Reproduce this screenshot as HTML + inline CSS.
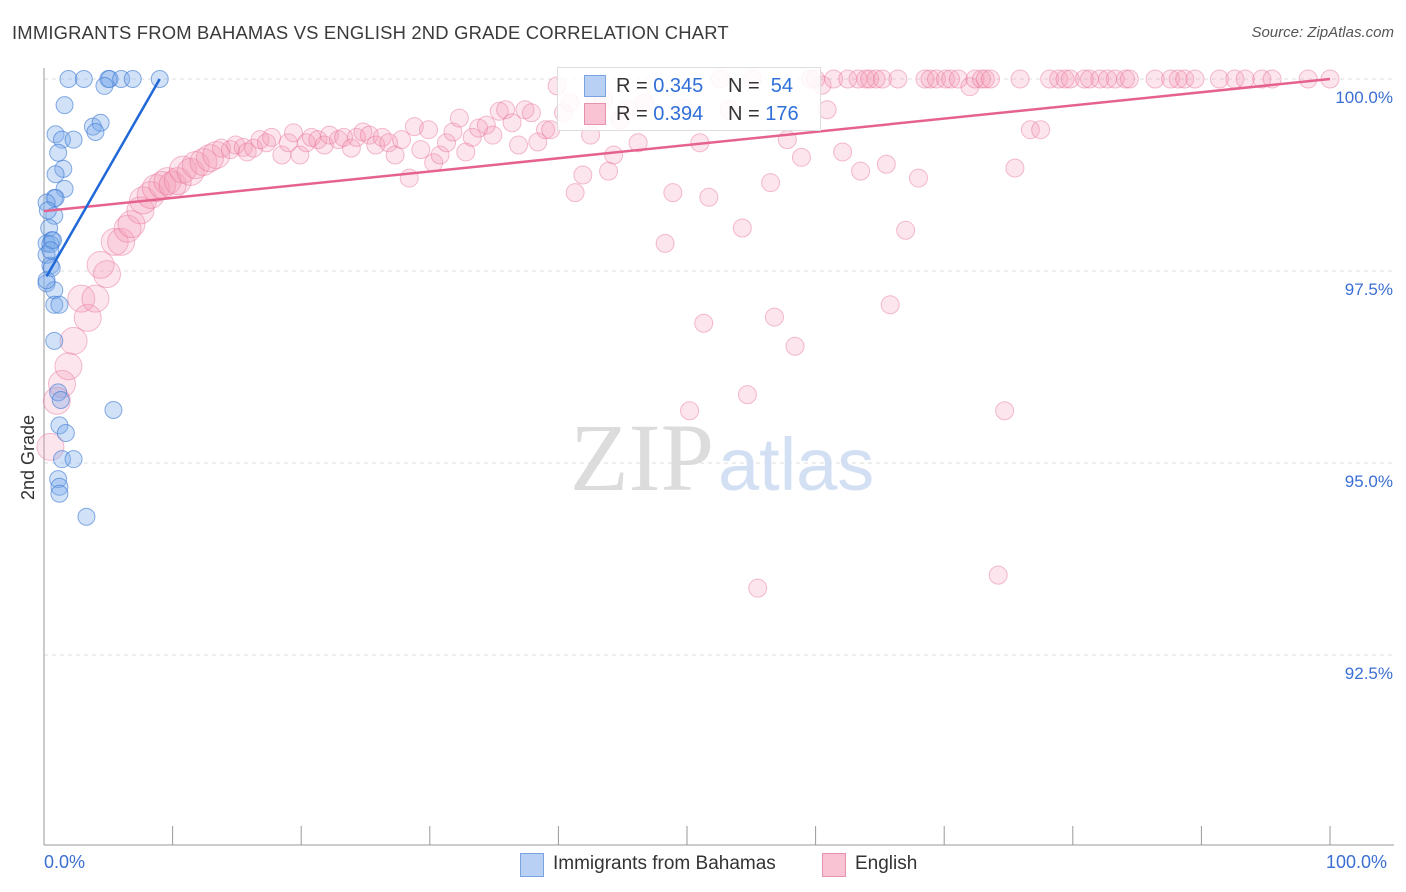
<!DOCTYPE html>
<html><head><meta charset="utf-8">
<style>
body{margin:0;background:#fff;font-family:"Liberation Sans",sans-serif;}
#wrap{position:relative;width:1406px;height:892px;overflow:hidden;}
.t{position:absolute;white-space:nowrap;}
</style></head>
<body>
<div id="wrap">
<div class="t" style="left:12px;top:22px;font-size:18.4px;color:#3a3a3a;letter-spacing:0.2px">IMMIGRANTS FROM BAHAMAS VS ENGLISH 2ND GRADE CORRELATION CHART</div>
<div class="t" style="right:12px;top:24px;font-size:15px;color:#555;font-style:italic">Source: ZipAtlas.com</div>
<svg id="svg" width="1406" height="892" style="position:absolute;left:0;top:0"></svg>
</div>
<script>
const blueX=[1.9,3.1,5.0,5.1,6.0,6.9,9.0,4.7,1.6,0.9,1.4,2.3,3.8,4.4,4.0,1.1,1.5,0.9,1.6,0.8,0.9,0.2,0.8,0.4,0.6,0.2,0.5,0.7,0.2,0.5,0.6,0.2,0.8,0.8,1.2,0.8,1.1,1.3,5.4,1.2,1.7,1.4,2.3,1.1,1.2,1.2,3.3,0.2,0.3,0.5];
const blueY=[100,100,100,100,100,100,100,99.91,99.66,99.28,99.21,99.21,99.38,99.43,99.31,99.04,98.83,98.76,98.57,98.45,98.45,98.39,98.22,98.06,97.90,97.86,97.85,97.90,97.71,97.57,97.54,97.34,97.25,97.06,97.06,96.59,95.92,95.82,95.69,95.49,95.39,95.05,95.05,94.79,94.69,94.60,94.30,97.38,98.29,97.77];
const pinkX=[0.5,1.0,1.4,1.9,2.3,3.4,2.9,4.0,4.9,4.4,5.5,6.0,6.5,6.8,7.5,7.7,8.3,8.7,9.2,9.6,10.0,10.4,10.8,11.4,11.8,12.4,12.9,13.4,13.8,14.5,14.9,15.5,15.8,16.3,16.8,17.3,17.7,18.5,19.0,19.4,19.9,20.4,20.8,21.3,21.8,22.2,22.9,23.3,23.9,24.3,24.8,25.3,25.8,26.3,26.8,27.3,27.8,28.4,28.8,29.3,29.9,30.3,30.8,31.3,31.8,32.3,32.8,33.3,33.8,34.4,34.9,35.4,35.9,36.4,36.9,37.4,37.9,38.4,39.0,39.4,39.9,40.4,40.9,41.3,41.9,42.5,42.9,43.5,43.9,44.3,44.8,45.4,46.2,46.7,48.3,48.9,49.7,50.2,51.0,51.3,51.7,52.6,53.3,54.3,54.7,55.1,55.5,56.5,56.8,57.8,58.4,58.9,59.6,60.0,60.5,60.9,61.4,62.1,62.5,63.3,63.5,63.9,64.2,64.7,65.2,65.5,65.8,66.4,67.0,68.0,68.5,68.9,69.4,70.1,70.5,71.1,72.0,72.4,72.9,73.2,73.6,74.2,74.7,75.5,75.9,76.7,77.5,78.2,78.9,79.4,79.8,80.9,81.3,82.1,82.7,83.3,84.1,84.4,86.4,87.6,88.2,88.7,89.5,91.4,92.6,93.4,94.7,95.5,98.3,100];
const pinkY=[95.21,95.81,96.03,96.26,96.59,96.89,97.14,97.14,97.46,97.58,97.88,97.88,98.05,98.11,98.29,98.42,98.49,98.58,98.62,98.67,98.62,98.67,98.82,98.79,98.88,98.92,98.97,99.01,99.10,99.08,99.14,99.11,99.05,99.10,99.21,99.17,99.24,99.01,99.17,99.30,99.01,99.17,99.24,99.21,99.14,99.27,99.21,99.24,99.10,99.24,99.31,99.27,99.14,99.24,99.17,99.01,99.21,98.71,99.38,99.08,99.34,98.91,99.01,99.17,99.31,99.49,99.05,99.24,99.36,99.40,99.27,99.58,99.60,99.43,99.14,99.60,99.56,99.18,99.34,99.34,99.91,99.56,99.69,98.52,98.75,99.27,99.73,99.73,98.80,99.01,99.47,99.60,99.17,99.69,97.86,98.52,99.62,95.68,99.17,96.82,98.46,100,99.60,98.06,95.89,100,93.37,98.65,96.90,99.21,96.52,98.98,100,100,99.92,99.60,100,99.05,100,100,98.80,100,100,100,100,98.89,97.06,100,98.03,98.71,100,100,100,100,100,100,99.90,100,100,100,100,93.54,95.68,98.84,100,99.34,99.34,100,100,100,100,100,100,100,100,100,100,100,100,100,100,100,100,100,100,100,100,100,100,100];
const pinkSize=[2,2,2,2,2,2,2,2,2,2,2,2,2,2,2,2,2,2,2,2,2,2,1.5,1.5,1.5,1.5,1.5,1.5];
const yTicks=[100,97.5,95,92.5];
const yTickLabels=["100.0%","97.5%","95.0%","92.5%"];
const blueLine=[[0.2,97.43],[9.0,100]];
const pinkLine=[[0,98.28],[100,100]];

const svg=document.getElementById('svg');
const NS='http://www.w3.org/2000/svg';
const X0=44,X1=1330,Y100=79,PXPER=76.8;
const sx=v=>X0+(X1-X0)*v/100;
const sy=v=>Y100+(100-v)*PXPER;
function mk(tag,attrs){const e=document.createElementNS(NS,tag);for(const k in attrs)e.setAttribute(k,attrs[k]);svg.appendChild(e);return e;}

yTicks.forEach((t,i)=>{
 const g=mk('line',{x1:44,x2:1394,y1:sy(t),y2:sy(t),stroke:'#ddd','stroke-dasharray':'4,4'});
 
 
 const tx=mk('text',{x:1393,y:sy(t)+24,'text-anchor':'end','font-size':17,fill:'#3b6fd4','font-family':'Liberation Sans, sans-serif'});
 tx.textContent=yTickLabels[i];
 
 
});
const ax=mk('line',{x1:44,x2:44,y1:68,y2:845,stroke:'#999'});


const bx=mk('line',{x1:44,x2:1394,y1:845,y2:845,stroke:'#999'});


for(let i=0;i<=10;i++){
 const l=mk('line',{x1:sx(i*10),x2:sx(i*10),y1:826,y2:845,stroke:'#999'});
 
 
}
const wm=mk('text',{x:714,y:490,'text-anchor':'end','font-size':96,fill:'#dcdcdc','font-family':'Liberation Serif, serif'});
wm.textContent='ZIP';


const wm2=mk('text',{x:718,y:490,'font-size':74,fill:'#d3e0f3','font-family':'Liberation Sans, sans-serif'});
wm2.textContent='atlas';



pinkX.forEach((x,i)=>{
 const r=9*(pinkSize[i]?Math.min(pinkSize[i],1.5):1);
 const c=mk('circle',{cx:sx(x),cy:sy(pinkY[i]),r:r,fill:'rgba(244,150,180,0.25)',stroke:'rgba(230,110,150,0.45)','stroke-width':1});
 
 
});
blueX.forEach((x,i)=>{
 const c=mk('circle',{cx:sx(x),cy:sy(blueY[i]),r:8.5,fill:'rgba(120,170,235,0.35)',stroke:'rgba(60,120,210,0.6)','stroke-width':1});
 
 
});
const pl=mk('line',{x1:sx(pinkLine[0][0]),y1:sy(pinkLine[0][1]),x2:sx(pinkLine[1][0]),y2:sy(pinkLine[1][1]),stroke:'#e5628f','stroke-width':2.5});


const bl=mk('line',{x1:sx(blueLine[0][0]),y1:sy(blueLine[0][1]),x2:sx(blueLine[1][0]),y2:sy(blueLine[1][1]),stroke:'#2068d8','stroke-width':2.5});


</script>
<div class="t" style="left:18px;top:500px;transform:rotate(-90deg);transform-origin:0 0;font-size:18px;color:#333">2nd Grade</div>
<div class="t" style="left:44px;top:852px;font-size:18px;color:#3b6fd4">0.0%</div>
<div class="t" style="left:1326px;top:852px;font-size:18px;color:#3b6fd4">100.0%</div>
<div style="position:absolute;left:557px;top:67px;width:262px;height:62px;background:rgba(255,255,255,0.85);border:1px solid #ddd;font-size:20px;color:#333">
 <div style="position:absolute;left:26px;top:7px;width:20px;height:20px;background:#b8d0f4;border:1px solid #7aa3e0"></div>
 <div class="t" style="left:58px;top:7px"><span>R = </span><span style="color:#2f6fd8">0.345</span></div>
 <div class="t" style="left:170px;top:7px"><span>N = </span><span style="color:#2f6fd8">&nbsp;54</span></div>
 <div style="position:absolute;left:26px;top:35px;width:20px;height:20px;background:#f9c3d4;border:1px solid #e891ae"></div>
 <div class="t" style="left:58px;top:35px"><span>R = </span><span style="color:#2f6fd8">0.394</span></div>
 <div class="t" style="left:170px;top:35px"><span>N = </span><span style="color:#2f6fd8">176</span></div>
</div>
<div style="position:absolute;left:520px;top:853px;width:22px;height:22px;background:#b8d0f4;border:1px solid #7aa3e0"></div>
<div class="t" style="left:553px;top:853px;font-size:19px;color:#333">Immigrants from Bahamas</div>
<div style="position:absolute;left:822px;top:853px;width:22px;height:22px;background:#f9c3d4;border:1px solid #e891ae"></div>
<div class="t" style="left:855px;top:853px;font-size:19px;color:#333">English</div>
</body></html>
